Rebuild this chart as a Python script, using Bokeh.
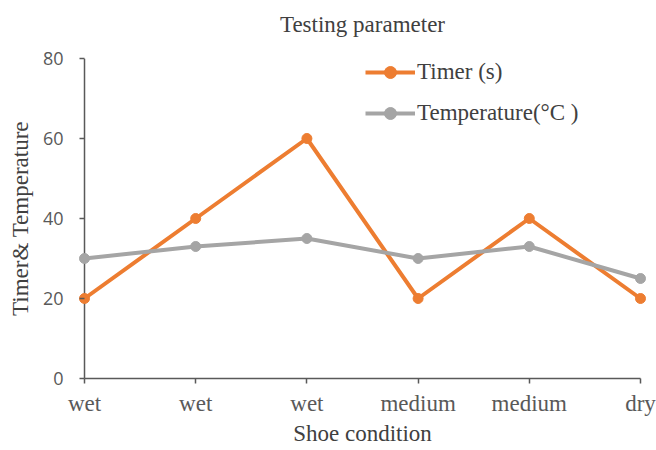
from bokeh.plotting import figure
from bokeh.models import Range1d, FixedTicker, Span, Legend, LegendItem, Title
from bokeh.embed import file_html
from bokeh.resources import INLINE

conditions = ["wet", "wet", "wet", "medium", "medium", "dry"]
timer = [20, 40, 60, 20, 40, 20]
temperature = [30, 33, 35, 30, 33, 25]
y_ticks = [0, 20, 40, 60, 80]

xs = list(range(len(conditions)))
SERIF = "Liberation Serif"
ORANGE = "#ED7D31"
GRAY = "#A5A5A5"
AXIS = "#595959"
TXT = "#404040"

p = figure(width=656, height=450, frame_width=572, frame_height=320,
           output_backend="svg", toolbar_location=None,
           x_range=Range1d(-0.072, len(conditions) - 1 + 0.072),
           y_range=Range1d(0, 80),
           min_border_left=76, min_border_right=8, min_border_top=58, min_border_bottom=72)
p.outline_line_color = None
p.grid.visible = False
p.background_fill_color = "white"
p.border_fill_color = "white"

# title (a thin spacer title sits between the main title and the frame)
p.title.text = "Testing parameter"
p.title.align = "center"
p.title.offset = 5
p.title.text_font = SERIF
p.title.text_font_size = "23px"
p.title.text_font_style = "normal"
p.title.text_color = TXT
p.add_layout(Title(text=" ", text_font_size="13px", standoff=0), "above")

# x axis
xa = p.xaxis[0]
xa.ticker = FixedTicker(ticks=xs)
xa.major_label_overrides = {i: c for i, c in enumerate(conditions)}
xa.bounds = (0, len(conditions) - 1)
xa.axis_line_color = AXIS
xa.axis_line_width = 1.5
xa.major_tick_line_color = AXIS
xa.major_tick_line_width = 1.5
xa.major_tick_out = 5
xa.major_tick_in = 0
xa.minor_tick_line_color = None
xa.major_label_text_font = SERIF
xa.major_label_text_font_size = "23px"
xa.major_label_text_color = "#595959"
xa.major_label_standoff = 7
xa.axis_label = "Shoe condition"
xa.axis_label_text_font = SERIF
xa.axis_label_text_font_size = "23px"
xa.axis_label_text_font_style = "normal"
xa.axis_label_text_color = TXT
xa.axis_label_standoff = 2

# y axis
ya = p.yaxis[0]
ya.ticker = FixedTicker(ticks=y_ticks)
ya.axis_line_color = None
ya.major_tick_line_color = AXIS
ya.major_tick_line_width = 1.5
ya.major_tick_in = 8
ya.major_tick_out = -3
ya.minor_tick_line_color = None
ya.major_label_text_font = "Open Sans"
ya.major_label_text_font_size = "18px"
ya.major_label_text_color = "#595959"
ya.major_label_standoff = 13
ya.axis_label = "Timer& Temperature"
ya.axis_label_text_font = SERIF
ya.axis_label_text_font_size = "23px"
ya.axis_label_text_font_style = "normal"
ya.axis_label_text_color = TXT
ya.axis_label_standoff = 7

yline = Span(location=0, dimension="height", line_color=AXIS, line_width=1.5, level="underlay")
p.add_layout(yline)

r1 = p.line(xs, timer, line_color=ORANGE, line_width=4)
m1 = p.scatter(xs, timer, size=10, fill_color=ORANGE, line_color=ORANGE)
r2 = p.line(xs, temperature, line_color=GRAY, line_width=4)
m2 = p.scatter(xs, temperature, size=10, fill_color=GRAY, line_color=GRAY)

legend = Legend(items=[LegendItem(label="Timer (s)", renderers=[r1, m1]),
                       LegendItem(label="Temperature(°C )", renderers=[r2, m2])],
                location=(289, 250), padding=0, margin=0,
                glyph_width=50, glyph_height=30, label_height=30, spacing=11,
                label_standoff=2, background_fill_alpha=0, border_line_color=None,
                label_text_font=SERIF, label_text_font_size="23px",
                label_text_color=TXT)
p.add_layout(legend)

open("out.html", "w").write(file_html(p, INLINE))
